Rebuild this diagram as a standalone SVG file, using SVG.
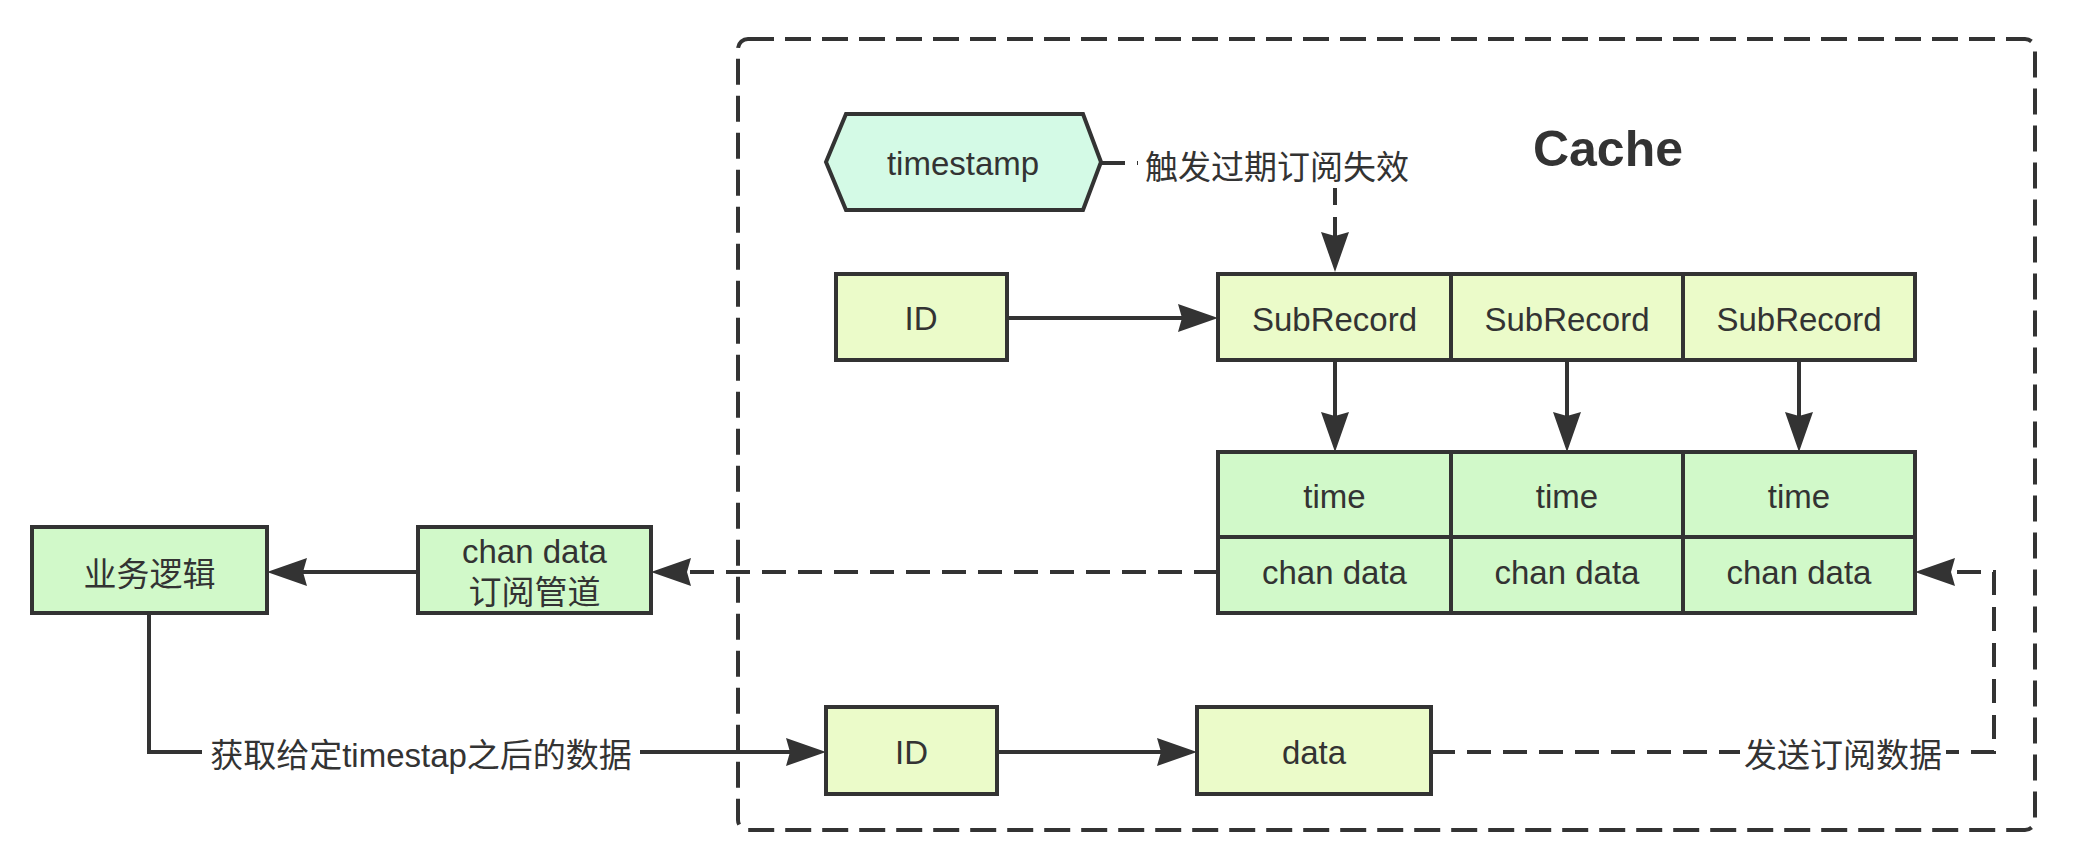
<svg xmlns="http://www.w3.org/2000/svg" width="2080" height="861" viewBox="0 0 2080 861">
<style>
  .box { stroke:#333333; stroke-width:4; }
  .lite { fill:#ebfbc9; }
  .green { fill:#d1f9c9; }
  .mint { fill:#d4fae6; }
  .t { font-family:"Liberation Sans","Noto Sans CJK SC",sans-serif; font-size:33px; fill:#333333; text-anchor:middle; }
  .line { fill:none; stroke:#333333; stroke-width:4; }
  .dash { stroke-dasharray:24 12; }
  .lbg { fill:#ffffff; }
</style>
<defs>
  <marker id="arrow" viewBox="0 0 40 28" refX="10" refY="14" markerWidth="40" markerHeight="28" markerUnits="userSpaceOnUse" orient="auto">
    <path d="M0,0 L40,14 L0,28 L4,14 z" fill="#333333"/>
  </marker>
</defs>
<rect width="2080" height="861" fill="#ffffff"/>

<g id="cache-frame">
  <rect x="738" y="39" width="1297" height="791" rx="10" ry="10" fill="none" stroke="#333333" stroke-width="4" stroke-dasharray="26 11"/>
  <text class="t" x="1608" y="166" style="font-size:50px;font-weight:bold;">Cache</text>
</g>

<g id="connectors">
  <path class="line dash" d="M1101,163 H1335 V242" marker-end="url(#arrow)"/>
  <path class="line" d="M1007,318 H1188" marker-end="url(#arrow)"/>
  <path class="line" d="M1335,360 V422" marker-end="url(#arrow)"/>
  <path class="line" d="M1567,360 V422" marker-end="url(#arrow)"/>
  <path class="line" d="M1799,360 V422" marker-end="url(#arrow)"/>
  <path class="line dash" d="M1218,572 H681" marker-end="url(#arrow)"/>
  <path class="line" d="M418,572 H297" marker-end="url(#arrow)"/>
  <path class="line" d="M149,613 V752 H796" marker-end="url(#arrow)"/>
  <path class="line" d="M997,752 H1167" marker-end="url(#arrow)"/>
  <path class="line dash" d="M1431,752 H1994 V572 H1945" marker-end="url(#arrow)"/>
  <rect class="lbg" x="1138" y="146" width="278" height="42"/>
  <text class="t" x="1277" y="179">触发过期订阅失效</text>
  <rect class="lbg" x="202" y="736" width="438" height="40"/>
  <text class="t" x="421" y="767">获取给定timestap之后的数据</text>
  <rect class="lbg" x="1740" y="736" width="206" height="40"/>
  <text class="t" x="1843" y="767">发送订阅数据</text>
</g>

<g id="timestamp">
  <polygon class="box mint" points="826,162 846,114 1083,114 1101,162 1083,210 846,210"/>
  <text class="t" x="963" y="175">timestamp</text>
</g>

<g id="id-top">
  <rect class="box lite" x="836" y="274" width="171" height="86"/>
  <text class="t" x="921" y="330">ID</text>
</g>

<g id="subrecord-1">
  <rect class="box lite" x="1218" y="274" width="233" height="86"/>
  <text class="t" x="1334.5" y="331">SubRecord</text>
</g>
<g id="subrecord-2">
  <rect class="box lite" x="1451" y="274" width="232" height="86"/>
  <text class="t" x="1567" y="331">SubRecord</text>
</g>
<g id="subrecord-3">
  <rect class="box lite" x="1683" y="274" width="232" height="86"/>
  <text class="t" x="1799" y="331">SubRecord</text>
</g>

<g id="record-1">
  <rect class="box green" x="1218" y="452" width="233" height="85"/>
  <text class="t" x="1334.5" y="508">time</text>
  <rect class="box green" x="1218" y="537" width="233" height="76"/>
  <text class="t" x="1334.5" y="584">chan data</text>
</g>
<g id="record-2">
  <rect class="box green" x="1451" y="452" width="232" height="85"/>
  <text class="t" x="1567" y="508">time</text>
  <rect class="box green" x="1451" y="537" width="232" height="76"/>
  <text class="t" x="1567" y="584">chan data</text>
</g>
<g id="record-3">
  <rect class="box green" x="1683" y="452" width="232" height="85"/>
  <text class="t" x="1799" y="508">time</text>
  <rect class="box green" x="1683" y="537" width="232" height="76"/>
  <text class="t" x="1799" y="584">chan data</text>
</g>

<g id="business-logic">
  <rect class="box green" x="32" y="527" width="235" height="86"/>
  <text class="t" x="149.5" y="586">业务逻辑</text>
</g>

<g id="chan-pipe">
  <rect class="box green" x="418" y="527" width="233" height="86"/>
  <text class="t" x="534.5" y="563">chan data</text>
  <text class="t" x="534.5" y="604">订阅管道</text>
</g>

<g id="id-bottom">
  <rect class="box lite" x="826" y="707" width="171" height="87"/>
  <text class="t" x="911.5" y="764">ID</text>
</g>

<g id="data">
  <rect class="box lite" x="1197" y="707" width="234" height="87"/>
  <text class="t" x="1314" y="764">data</text>
</g>
</svg>
